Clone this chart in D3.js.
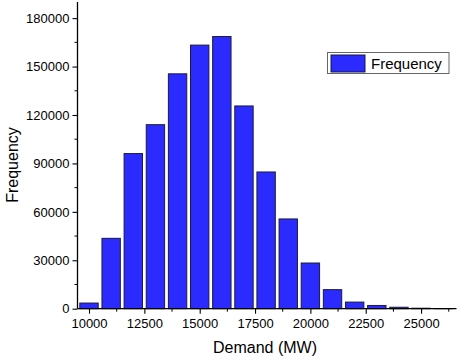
<!DOCTYPE html>
<html><head><meta charset="utf-8">
<script src="https://cdn.jsdelivr.net/npm/d3@7"></script>
<style>body{margin:0;background:#fff}svg{display:block;font-family:"Liberation Sans",Arial,sans-serif}</style>
</head><body>
<svg id="c" width="457" height="360"></svg>
<script>
const binCenters = [10000,11000,12000,13000,14000,15000,16000,17000,18000,19000,20000,21000,22000,23000,24000,25000,26000];
const frequency = [3500,43600,96100,114000,145500,163300,168600,125600,84700,55600,28300,11800,4100,2000,900,300,100];
const xTickValues = [10000,12500,15000,17500,20000,22500,25000];
const yTickValues = [0,30000,60000,90000,120000,150000,180000];
const seriesName = "Frequency";

const svg = d3.select("#c");
const x = d3.scaleLinear().domain([9480, 26600]).range([77.5, 456.5]);
const y = d3.scaleLinear().domain([0, 190000]).range([308.7, 2]);
const binW = 830;

svg.append("g").selectAll("rect").data(binCenters).join("rect")
  .attr("x", (d)=>x(d - binW/2))
  .attr("width", (d)=>x(d + binW/2) - x(d - binW/2))
  .attr("y", (d,i)=>y(frequency[i]))
  .attr("height", (d,i)=>y(0) - y(frequency[i]))
  .attr("fill", "#2b2bff").attr("stroke", "#1a1a40").attr("stroke-width", 1);

const xMinor = d3.range(11250, 26600, 2500);
const yMinor = d3.range(15000, 190000, 30000);
const gx = svg.append("g").attr("transform", `translate(0,${y(0)})`);
gx.call(d3.axisBottom(x).tickValues(xTickValues).tickSize(5).tickPadding(5).tickFormat(d3.format("d")));
gx.selectAll(".minor").data(xMinor).join("line").attr("class","minor")
  .attr("x1", d=>x(d)).attr("x2", d=>x(d)).attr("y1",0).attr("y2",3).attr("stroke","#000");
const gy = svg.append("g").attr("transform", `translate(${x(9480)},0)`);
gy.call(d3.axisLeft(y).tickValues(yTickValues).tickSize(5).tickPadding(3).tickFormat(d3.format("d")));
gy.selectAll(".minor").data(yMinor).join("line").attr("class","minor")
  .attr("y1", d=>y(d)).attr("y2", d=>y(d)).attr("x1",0).attr("x2",-3).attr("stroke","#000");
[gx, gy].forEach(g=>{
  g.select(".domain").attr("stroke-width",1.3);
  g.selectAll("text").attr("font-size",13).attr("font-family","Liberation Sans, Arial, sans-serif").attr("fill","#000");
  g.selectAll(".tick line").attr("stroke-width",1.1);
});
gx.select(".domain").attr("d", `M${x(9480)},0H456.5`);
gy.select(".domain").attr("d", `M0,${y(0)}V2`);

svg.append("text").attr("x", 265).attr("y", 353).attr("text-anchor","middle")
  .attr("font-size",16).text("Demand (MW)");
svg.append("text").attr("transform","translate(18,165) rotate(-90)").attr("text-anchor","middle")
  .attr("font-size",16).text("Frequency");

const lg = svg.append("g");
lg.append("rect").attr("x",327.5).attr("y",52.5).attr("width",121.5).attr("height",21)
  .attr("fill","#fff").attr("stroke","#666").attr("stroke-width",1);
lg.append("rect").attr("x",331).attr("y",55).attr("width",34).attr("height",17)
  .attr("fill","#2b2bff").attr("stroke","#1a1a40").attr("stroke-width",1);
lg.append("text").attr("x",371).attr("y",69).attr("font-size",15).text(seriesName);
</script>
</body></html>
